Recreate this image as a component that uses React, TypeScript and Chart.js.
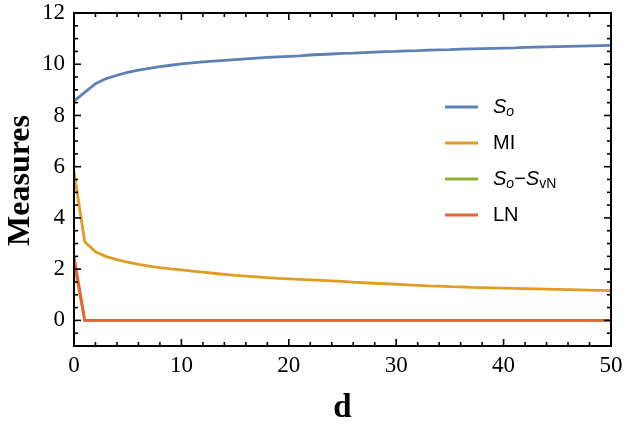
import React, { useEffect, useRef } from "react";
import { Chart, registerables } from "chart.js";

Chart.register(...registerables);

const dValues = [
  0, 1, 2, 3, 4, 5, 6, 7, 8, 9, 10, 11, 12, 13, 14, 15, 16, 17, 18, 19, 20, 21, 22, 23, 24, 25,
  26, 27, 28, 29, 30, 31, 32, 33, 34, 35, 36, 37, 38, 39, 40, 41, 42, 43, 44, 45, 46, 47, 48, 49, 50,
];

const soValues = [
  8.56, 8.9, 9.24, 9.44, 9.57, 9.68, 9.77, 9.84, 9.91, 9.96, 10.01, 10.05, 10.09, 10.12, 10.15,
  10.18, 10.21, 10.24, 10.27, 10.29, 10.31, 10.33, 10.36, 10.38, 10.4, 10.42, 10.43, 10.45, 10.47,
  10.49, 10.5, 10.52, 10.53, 10.55, 10.56, 10.57, 10.59, 10.6, 10.61, 10.62, 10.63, 10.64, 10.66,
  10.67, 10.68, 10.69, 10.7, 10.71, 10.72, 10.73, 10.74,
];

const miValues = [
  5.8, 3.07, 2.68, 2.49, 2.37, 2.27, 2.19, 2.12, 2.06, 2.01, 1.97, 1.92, 1.88, 1.84, 1.8, 1.76,
  1.73, 1.7, 1.67, 1.64, 1.62, 1.6, 1.58, 1.56, 1.54, 1.52, 1.49, 1.47, 1.45, 1.43, 1.41, 1.39,
  1.37, 1.35, 1.34, 1.32, 1.31, 1.29, 1.28, 1.27, 1.26, 1.25, 1.24, 1.23, 1.22, 1.21, 1.2, 1.19,
  1.18, 1.17, 1.16,
];

const soMinusSvnValues = [
  2.25, 0, 0, 0, 0, 0, 0, 0, 0, 0, 0, 0, 0, 0, 0, 0, 0, 0, 0, 0, 0, 0, 0, 0, 0, 0, 0, 0, 0, 0, 0,
  0, 0, 0, 0, 0, 0, 0, 0, 0, 0, 0, 0, 0, 0, 0, 0, 0, 0, 0, 0,
];

const lnValues = [
  2.5, 0, 0, 0, 0, 0, 0, 0, 0, 0, 0, 0, 0, 0, 0, 0, 0, 0, 0, 0, 0, 0, 0, 0, 0, 0, 0, 0, 0, 0, 0,
  0, 0, 0, 0, 0, 0, 0, 0, 0, 0, 0, 0, 0, 0, 0, 0, 0, 0, 0, 0,
];

const xTickValues = [0, 10, 20, 30, 40, 50];
const yTickValues = [0, 2, 4, 6, 8, 10, 12];

const seriesColors = ["#5E81B5", "#E19C24", "#8FB032", "#EB6235"];

type Part = { t: string; italic?: boolean; sub?: boolean };
const legendLabels: Part[][] = [
  [{ t: "S", italic: true }, { t: "o", italic: true, sub: true }],
  [{ t: "MI" }],
  [
    { t: "S", italic: true },
    { t: "o", italic: true, sub: true },
    { t: "\u2212" },
    { t: "S", italic: true },
    { t: "vN", sub: true },
  ],
  [{ t: "LN" }],
];

const SANS = '"Liberation Sans", Arial, sans-serif';
const SERIF = '"Liberation Serif", "Times New Roman", serif';

const toPoints = (ys: number[]) => dValues.map((d, i) => ({ x: d, y: ys[i] }));

const framePlugin = {
  id: "frameAndExtras",
  afterDraw(chart: any) {
    const { ctx, chartArea, scales } = chart;
    const { left, right, top, bottom } = chartArea;
    const xs = scales.x;
    const ys = scales.y;
    ctx.save();
    ctx.strokeStyle = "#000";
    ctx.lineWidth = 2;
    ctx.strokeRect(left, top, right - left, bottom - top);

    ctx.lineWidth = 1.6;
    const seg = (x1: number, y1: number, x2: number, y2: number) => {
      ctx.beginPath();
      ctx.moveTo(x1, y1);
      ctx.lineTo(x2, y2);
      ctx.stroke();
    };
    // x ticks (major every 10, minor every 2)
    for (let v = 0; v <= 50; v += 2) {
      const px = xs.getPixelForValue(v);
      const len = xTickValues.includes(v) ? 7 : 4;
      seg(px, bottom, px, bottom - len);
      seg(px, top, px, top + len);
    }
    // y ticks (major every 2, minor every 0.5)
    for (let k = -2; k <= 24; k++) {
      const v = k / 2;
      const py = ys.getPixelForValue(v);
      const len = yTickValues.includes(v) ? 7 : 4;
      seg(left, py, left + len, py);
      seg(right, py, right - len, py);
    }

    // axis titles
    ctx.fillStyle = "#000";
    ctx.font = `bold 33px ${SERIF}`;
    ctx.textAlign = "center";
    ctx.textBaseline = "middle";
    ctx.fillText("d", (left + right) / 2, 408);
    ctx.save();
    ctx.translate(21, (top + bottom) / 2 + 1);
    ctx.rotate(-Math.PI / 2);
    ctx.font = `bold 32px ${SERIF}`;
    ctx.fillText("Measures", 0, 0);
    ctx.restore();

    // legend
    const rowY = [107, 143, 179, 215];
    legendLabels.forEach((parts, i) => {
      const y = rowY[i];
      ctx.strokeStyle = seriesColors[i];
      ctx.lineWidth = 2.8;
      seg(445, y, 478, y);
      let x = 493;
      ctx.textAlign = "left";
      ctx.textBaseline = "middle";
      ctx.fillStyle = "#000";
      parts.forEach((p) => {
        const size = p.sub ? 14 : 20;
        ctx.font = `${p.italic ? "italic " : ""}${size}px ${SANS}`;
        ctx.fillText(p.t, x, y + (p.sub ? 5 : 0));
        x += ctx.measureText(p.t).width;
      });
    });
    ctx.restore();
  },
};

export default function App() {
  const ref = useRef<HTMLCanvasElement | null>(null);
  useEffect(() => {
    document.body.style.margin = "0";
    const canvas = ref.current;
    if (!canvas) return;
    const tickFont = { family: SERIF, size: 23 };
    const chart = new Chart(canvas, {
      type: "line",
      data: {
        datasets: [
          { label: "So", data: toPoints(soValues), borderColor: seriesColors[0], order: 4 },
          { label: "MI", data: toPoints(miValues), borderColor: seriesColors[1], order: 3 },
          { label: "So-SvN", data: toPoints(soMinusSvnValues), borderColor: seriesColors[2], order: 2 },
          { label: "LN", data: toPoints(lnValues), borderColor: seriesColors[3], order: 1 },
        ] as any,
      },
      options: {
        responsive: false,
        animation: false,
        devicePixelRatio: 1,
        layout: { padding: { top: 13, right: 14, left: 0, bottom: 0 } },
        plugins: { legend: { display: false }, tooltip: { enabled: false } },
        elements: {
          point: { radius: 0 },
          line: { tension: 0, borderWidth: 2.8, fill: false },
        },
        datasets: { line: { clip: 0 } } as any,
        scales: {
          x: {
            type: "linear",
            min: 0,
            max: 50,
            afterBuildTicks: (s: any) => {
              s.ticks = xTickValues.map((v) => ({ value: v }));
            },
            afterFit: (s: any) => {
              s.height = 78;
              s.paddingLeft = 0;
              s.paddingRight = 0;
              s.paddingTop = 0;
              s.paddingBottom = 0;
            },
            grid: { display: false, drawTicks: false },
            border: { display: false },
            ticks: { font: tickFont, color: "#000", padding: 6, maxRotation: 0, autoSkip: false },
          },
          y: {
            type: "linear",
            min: -1,
            max: 12,
            afterBuildTicks: (s: any) => {
              s.ticks = yTickValues.map((v) => ({ value: v }));
            },
            afterFit: (s: any) => {
              s.width = 74;
              s.paddingLeft = 0;
              s.paddingRight = 0;
              s.paddingTop = 0;
              s.paddingBottom = 0;
            },
            grid: { display: false, drawTicks: false },
            border: { display: false },
            ticks: { font: tickFont, color: "#000", padding: 9, autoSkip: false },
          },
        },
      } as any,
      plugins: [framePlugin],
    });
    return () => chart.destroy();
  }, []);
  return (
    <div style={{ width: 625, height: 424 }}>
      <canvas ref={ref} width={625} height={424} style={{ display: "block" }} />
    </div>
  );
}
